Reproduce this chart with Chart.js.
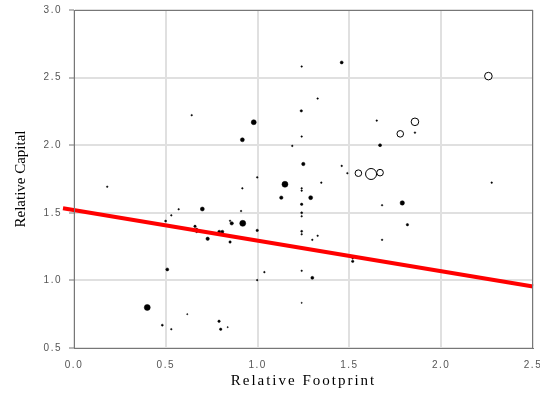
<!DOCTYPE html>
<html>
<head>
<meta charset="utf-8">
<script src="https://cdn.jsdelivr.net/npm/chart.js@4"></script>
<style>
  body { margin: 0; background: #fff; }
  #wrap { width: 540px; height: 396px; }
</style>
</head>
<body>
<div id="wrap"><canvas id="bubbleChart" width="540" height="396"></canvas></div>
<script>
'use strict';

// filled bubbles (black)
var footprint = [0.641, 0.979, 0.917, 1.189, 0.998, 1.240, 1.458, 1.327, 1.238, 1.240,
  1.649, 1.857, 1.667, 1.249, 1.458, 1.489, 0.181, 0.917, 1.149, 1.129,
  0.699, 0.570, 0.910, 0.530, 0.499, 0.850, 0.859, 0.919, 0.659, 0.668,
  0.668, 0.728, 0.791, 0.808, 0.850, 0.998, 0.508, 1.037, 0.998, 0.399,
  0.617, 0.481, 0.530, 0.790, 0.799, 0.837, 1.347, 2.275, 1.240, 1.240,
  1.289, 1.788, 1.240, 1.678, 1.240, 1.240, 1.240, 1.240, 1.327, 1.298,
  1.678, 1.816, 1.518, 1.518, 1.240, 1.298, 1.240];
var capital = [2.222, 2.170, 2.040, 1.995, 1.762, 2.582, 2.612, 2.345, 2.254, 2.064,
  2.182, 2.093, 2.000, 1.861, 1.847, 1.793, 1.693, 1.681, 1.711, 1.612,
  1.528, 1.526, 1.513, 1.481, 1.439, 1.441, 1.422, 1.422, 1.400, 1.380,
  1.360, 1.308, 1.360, 1.360, 1.284, 1.370, 1.081, 1.061, 1.002, 0.800,
  0.750, 0.669, 0.639, 0.698, 0.639, 0.654, 1.723, 1.723, 1.681, 1.664,
  1.612, 1.573, 1.563, 1.556, 1.500, 1.474, 1.363, 1.341, 1.330, 1.300,
  1.300, 1.412, 1.163, 1.141, 1.071, 1.019, 0.834];
var size = [0.8, 2.5, 2, 0.8, 0.8, 0.8, 1.5, 0.8, 1.2, 0.8,
  0.8, 0.8, 1.5, 1.7, 0.8, 0.8, 0.8, 0.8, 3, 1.7,
  2, 0.8, 0.8, 0.8, 1, 0.8, 1.7, 3, 1.2, 1,
  1, 1.7, 1.5, 1.5, 1.2, 1.2, 1.5, 0.8, 0.8, 3,
  0.6, 1, 0.8, 1.2, 1.2, 0.6, 0.8, 0.8, 0.8, 0.8,
  2, 2.2, 1.2, 0.8, 1, 0.8, 1, 0.8, 0.8, 0.8,
  0.8, 1.2, 0.8, 1.2, 0.8, 1.5, 0.6];

// open bubbles (white with outline)
var openFootprint = [2.257, 1.857, 1.777, 1.549, 1.618, 1.667];
var openCapital = [2.511, 2.173, 2.084, 1.793, 1.787, 1.797];
var openSize = [3.8, 3.8, 3.3, 3.3, 5.5, 3.3];

// trend line
var trendX = [-0.06, 2.5];
var trendY = [1.533, 0.955];

var xTicks = [0, 0.5, 1.0, 1.5, 2.0, 2.5];
var yTicks = [0.5, 1.0, 1.5, 2.0, 2.5, 3.0];

function toBubbles(xs, ys, rs) {
  return xs.map(function (x, i) { return { x: x, y: ys[i], r: rs[i] }; });
}

var framePlugin = {
  id: 'frame',
  beforeDraw: function (chart) {
    chart.ctx.letterSpacing = '1.5px';
  },
  afterDraw: function (chart) {
    var ctx = chart.ctx, a = chart.chartArea;
    ctx.save();
    ctx.strokeStyle = '#777';
    ctx.lineWidth = 1;
    ctx.strokeRect(a.left + 0.5, a.top + 0.5, a.right - a.left - 1, a.bottom - a.top);
    ctx.fillStyle = '#000';
    ctx.textAlign = 'center';
    ctx.textBaseline = 'middle';
    ctx.font = '15px "Liberation Serif"';
    ctx.letterSpacing = '2px';
    ctx.fillText('Relative Footprint', (a.left + a.right) / 2, 381);
    ctx.letterSpacing = '0px';
    ctx.translate(21, (a.top + a.bottom) / 2);
    ctx.rotate(-Math.PI / 2);
    ctx.fillText('Relative Capital', 0, 0);
    ctx.restore();
  }
};

var ctx = document.getElementById('bubbleChart').getContext('2d');
var chart = new Chart(ctx, {
  type: 'bubble',
  data: {
    datasets: [{
      type: 'line',
      data: trendX.map(function (x, i) { return { x: x, y: trendY[i] }; }),
      borderColor: '#ff0000',
      borderWidth: 4,
      pointRadius: 0,
      clip: false
    }, {
      data: toBubbles(openFootprint, openCapital, openSize),
      backgroundColor: '#ffffff',
      borderColor: '#000000',
      borderWidth: 1
    }, {
      data: toBubbles(footprint, capital, size),
      backgroundColor: '#000000',
      borderColor: '#000000',
      borderWidth: 0.5
    }]
  },
  options: {
    responsive: false,
    animation: false,
    layout: { padding: { top: 10, right: 7, left: 0, bottom: 0 } },
    plugins: { legend: { display: false }, tooltip: { enabled: false } },
    scales: {
      x: {
        type: 'linear',
        min: 0,
        max: 2.5,
        afterFit: function (scale) {
          scale.height = 48;
          scale.paddingLeft = 0;
          scale.paddingRight = 0;
        },
        afterBuildTicks: function (scale) {
          scale.ticks = xTicks.map(function (v) { return { value: v }; });
        },
        grid: { color: '#e0e0e0', lineWidth: 2, drawTicks: false },
        border: { color: '#777', width: 1 },
        ticks: {
          padding: 11,
          maxRotation: 0,
          autoSkip: false,
          color: '#555',
          font: { family: '"Liberation Sans"', size: 10 },
          callback: function (v) { return v.toFixed(1); }
        }
      },
      y: {
        type: 'linear',
        min: 0.5,
        max: 3.0,
        afterFit: function (scale) {
          scale.width = 74;
          scale.paddingTop = 0;
          scale.paddingBottom = 0;
        },
        afterBuildTicks: function (scale) {
          scale.ticks = yTicks.map(function (v) { return { value: v }; });
        },
        grid: { color: '#e0e0e0', lineWidth: 2, tickColor: '#777', tickWidth: 1, tickLength: 5 },
        border: { color: '#777', width: 1 },
        ticks: {
          padding: 7,
          color: '#555',
          font: { family: '"Liberation Sans"', size: 10 },
          callback: function (v) { return v.toFixed(1); }
        }
      }
    }
  },
  plugins: [framePlugin]
});
</script>
</body>
</html>
